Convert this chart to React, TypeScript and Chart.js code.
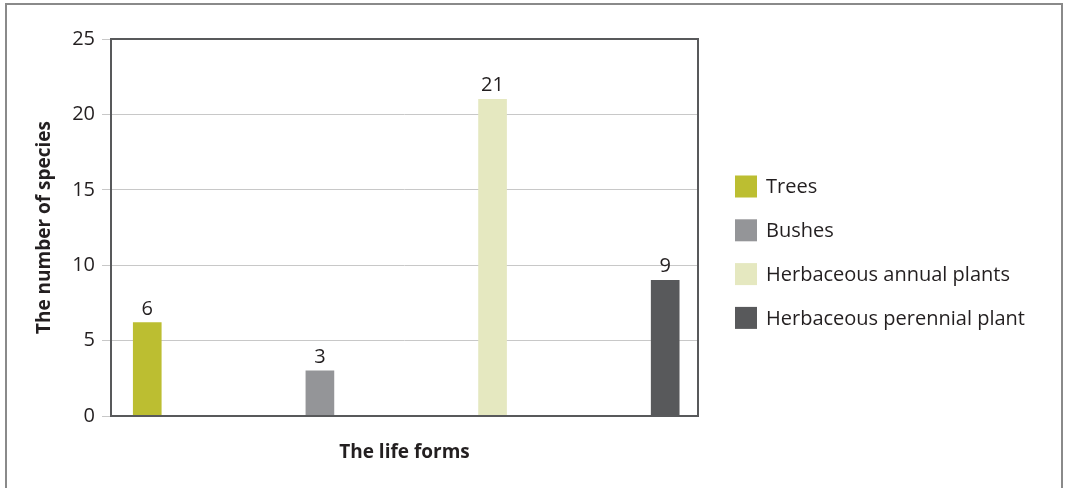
import React, { useEffect, useRef } from "react";
import { Chart, registerables } from "chart.js";

Chart.register(...registerables);

const seriesNames = ["Trees", "Bushes", "Herbaceous annual plants", "Herbaceous perennial plant"];
const seriesPositions = [1, 2, 3, 4];
const seriesValues = [6.2, 3, 21, 9];
const seriesColors = ["#bcbe31", "#949598", "#e5e8c0", "#58595b"];
const yTicks = [0, 5, 10, 15, 20, 25];
const yTitle = "The number of species";
const xTitle = "The life forms";

const FONT = "'Open Sans', sans-serif";
const TEXT = "#231f20";

const framePlugin = {
  id: "frame",
  beforeDraw(chart: any) {
    const ctx = chart.ctx;
    ctx.save();
    ctx.fillStyle = "#ffffff";
    ctx.fillRect(0, 0, chart.width, chart.height);
    ctx.strokeStyle = "#8a8a8a";
    ctx.lineWidth = 2;
    ctx.beginPath();
    ctx.moveTo(6, chart.height);
    ctx.lineTo(6, 4);
    ctx.lineTo(1062, 4);
    ctx.lineTo(1062, chart.height);
    ctx.stroke();
    ctx.restore();
  },
  afterDraw(chart: any) {
    const { left, right, top, bottom } = chart.chartArea;
    const ctx = chart.ctx;
    ctx.save();
    ctx.strokeStyle = "#58595b";
    ctx.lineWidth = 2;
    ctx.strokeRect(left, top, right - left, bottom - top);
    ctx.restore();
  },
};

const valueLabelPlugin = {
  id: "valueLabels",
  afterDatasetsDraw(chart: any) {
    const ctx = chart.ctx;
    ctx.save();
    ctx.font = `20px ${FONT}`;
    ctx.fillStyle = TEXT;
    ctx.textAlign = "center";
    ctx.textBaseline = "alphabetic";
    chart.data.datasets.forEach((ds: any, i: number) => {
      const meta = chart.getDatasetMeta(i);
      meta.data.forEach((el: any, j: number) => {
        const v = ds.data[j].y;
        ctx.fillText(String(Math.round(v)), el.x, el.y - 8);
      });
    });
    ctx.restore();
  },
};

const legendPlugin = {
  id: "sideLegend",
  afterDraw(chart: any) {
    const ctx = chart.ctx;
    ctx.save();
    ctx.font = `20px ${FONT}`;
    ctx.textBaseline = "middle";
    ctx.textAlign = "left";
    chart.data.datasets.forEach((ds: any, i: number) => {
      const cy = 186.5 + i * 43.8;
      ctx.fillStyle = ds.backgroundColor;
      ctx.fillRect(735, cy - 11, 22, 22);
      ctx.fillStyle = TEXT;
      ctx.fillText(ds.label, 766, cy + 1);
    });
    ctx.restore();
  },
};

export default function App() {
  const ref = useRef<HTMLCanvasElement | null>(null);
  useEffect(() => {
    document.body.style.margin = "0";
    if (!ref.current) return;
    const chart = new Chart(ref.current, {
      type: "bar",
      data: {
        datasets: seriesNames.map((name, i) => ({
          label: name,
          data: [{ x: seriesPositions[i], y: seriesValues[i] }],
          backgroundColor: seriesColors[i],
          barThickness: 28,
          grouped: false,
        })),
      },
      options: {
        responsive: false,
        animation: false,
        layout: { padding: { top: 39, right: 367, left: 0, bottom: 0 } },
        plugins: { legend: { display: false }, tooltip: { enabled: false } },
        scales: {
          x: {
            type: "linear",
            min: 0.79,
            max: 4.19,
            offset: false,
            grid: { display: false },
            border: { display: false },
            ticks: { display: false },
            title: {
              display: true,
              text: xTitle,
              color: TEXT,
              font: { family: FONT, size: 19, weight: "bold" },
              padding: { top: 0, bottom: 24 },
            },
            afterFit(scale: any) {
              scale.height = 72;
            },
          },
          y: {
            min: 0,
            max: 25,
            afterBuildTicks(scale: any) {
              scale.ticks = yTicks.map((v) => ({ value: v }));
            },
            grid: {
              color: "#c8c8c8",
              lineWidth: 1,
              tickLength: 9,
              tickColor: "#c8c8c8",
            },
            border: { display: false },
            ticks: {
              color: TEXT,
              padding: 7,
              font: { family: FONT, size: 20 },
            },
            title: {
              display: true,
              text: yTitle,
              color: TEXT,
              font: { family: FONT, size: 19, weight: "bold" },
              padding: { top: 33, bottom: 0 },
            },
            afterFit(scale: any) {
              scale.width = 111;
            },
          },
        },
      } as any,
      plugins: [framePlugin, valueLabelPlugin, legendPlugin],
    });
    return () => chart.destroy();
  }, []);
  return (
    <div style={{ position: "fixed", left: 0, top: 0, width: 1065, height: 488 }}>
      <canvas ref={ref} width={1065} height={488} />
    </div>
  );
}
